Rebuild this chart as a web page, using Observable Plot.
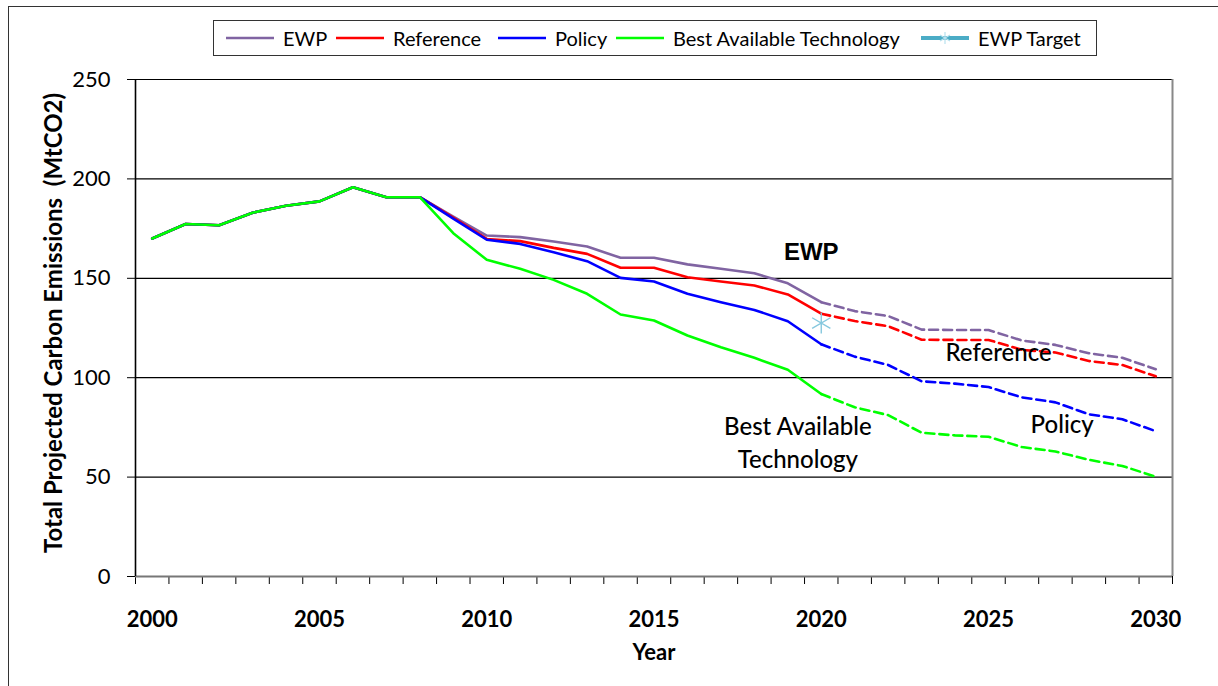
<!DOCTYPE html>
<html>
<head>
<meta charset="utf-8">
<script src="https://cdn.jsdelivr.net/npm/d3@7"></script>
<script src="https://cdn.jsdelivr.net/npm/@observablehq/plot@0.6"></script>
<style>
  body { margin: 0; background: #fff; }
  #wrap { position: relative; width: 1218px; height: 686px; overflow: hidden; }
  #frame { position: absolute; left: 8px; top: 6px; width: 1300px; height: 800px; border: 1.5px solid #333; box-sizing: border-box; }
  #legend { position: absolute; left: 213px; top: 20px; width: 884px; height: 36px; border: 1.5px solid #333; box-sizing: border-box; background: #fff;
            font-family: Lato, "Open Sans", sans-serif; font-size: 20px; color: #000; }
  #legend .item { position: absolute; top: 0; height: 33px; display: flex; align-items: center; white-space: nowrap; }
  #legend svg { margin-right: 9px; }
  #chart { position: absolute; left: 0; top: 0; }
  g[aria-label="y-axis tick label"] text { font-size: 22px; }
</style>
</head>
<body>
<div id="wrap">
  <div id="frame"></div>
  <div id="chart"></div>
  <div id="legend"></div>
</div>
<script>
// ---- data ----
const years = [2000,2001,2002,2003,2004,2005,2006,2007,2008,2009,2010,2011,2012,2013,2014,2015,2016,2017,2018,2019,2020,2021,2022,2023,2024,2025,2026,2027,2028,2029,2030];
const ewp = [170,177.3,176.7,183,186.5,188.7,195.8,190.8,190.8,181,171.5,170.7,168.5,166,160.3,160.3,157,154.8,152.5,147.5,138,133.5,131,124.2,124,124,118.7,116.5,112.3,110,104.3];
const reference = [170,177.3,176.7,183,186.5,188.7,195.8,190.8,190.8,180.5,169.8,168.7,165.3,162.3,155.3,155.3,150.5,148.4,146.4,141.9,132.2,128.5,125.9,119.1,119,119,114,112.7,108.4,106.4,100.7];
const policy = [170,177.3,176.7,183,186.5,188.7,195.8,190.8,190.8,180,169.4,167.3,163.1,158.6,150.2,148.4,142.2,138,134.1,128.4,116.8,110.6,106.4,98.2,97,95.3,90.1,87.6,81.6,79.1,73.1];
const bat = [170,177.3,176.7,183,186.5,188.7,195.8,190.8,190.8,172.7,159.3,154.8,149.2,142.2,131.8,128.8,121.2,115.3,110,104,91.8,85.1,81.2,72.3,71,70.3,65.1,62.9,58.7,55.6,50.2];
const seriesNames = ["EWP", "Reference", "Policy", "Best Available Technology"];
const seriesColors = ["#8064A2", "#FF0000", "#0000FF", "#00FF00"];
const projectionStart = 2020;
const targetYear = [2020];
const targetValue = [127.5];
const yTicks = [0, 50, 100, 150, 200, 250];
const xLabelYears = [2000, 2005, 2010, 2015, 2020, 2025, 2030];
const annLabels = ["EWP", "Reference", "Policy", "Best Available\nTechnology"];
const annX = [2019.7, 2025.3, 2027.2, 2019.3];
const annY = [163, 113.7, 77.5, 68.2];

// ---- build table ----
const seriesValues = [ewp, reference, policy, bat];
const rows = [];
seriesNames.forEach((s, i) => years.forEach((yr, j) => rows.push({series: s, year: yr, value: seriesValues[i][j]})));
const solid = rows.filter(d => d.year <= projectionStart);
const dashed = rows.filter(d => d.year >= projectionStart);
const target = targetYear.map((y, i) => ({year: y, value: targetValue[i]}));
const ann = annLabels.map((t, i) => ({text: t, year: annX[i], value: annY[i]}));
const boundaries = years.map(y => y - 0.5).concat([years[years.length - 1] + 0.5]);

const calibri = "Lato, 'Open Sans', sans-serif";

const chart = Plot.plot({
  width: 1218,
  height: 686,
  marginLeft: 135,
  marginRight: 46,
  marginTop: 79,
  marginBottom: 110,
  style: {fontFamily: calibri, fontSize: "21px", color: "#000", background: "transparent"},
  x: {domain: [years[0] - 0.5, years[years.length - 1] + 0.5]},
  y: {domain: [0, 250]},
  color: {domain: seriesNames, range: seriesColors},
  marks: [
    Plot.ruleY(yTicks.filter(d => d > 0), {stroke: "#000", strokeWidth: 1.2}),
    Plot.ruleX([years[years.length - 1] + 0.5], {stroke: "#888", strokeWidth: 2}),
    Plot.axisY({ticks: yTicks, tickSize: 8, tickPadding: 17, label: null, fontSize: 22}),
    Plot.axisX({ticks: boundaries, tickSize: 8, tickFormat: () => "", label: null}),
    Plot.axisX({ticks: xLabelYears, tickSize: 0, tickPadding: 35, tickFormat: d => String(d), label: null, fontWeight: "bold", fontSize: 22}),
    Plot.ruleY([0], {stroke: "#777", strokeWidth: 2.2}),
    Plot.ruleX([years[0] - 0.5], {stroke: "#000", strokeWidth: 1.6}),
    Plot.line(solid, {x: "year", y: "value", z: "series", stroke: "series", strokeWidth: 2.6}),
    Plot.line(dashed, {x: "year", y: "value", z: "series", stroke: "series", strokeWidth: 2.6, strokeDasharray: "9,5"}),
    Plot.dot(target, {x: "year", y: "value", symbol: "asterisk", r: 10, stroke: "#86C8DE", strokeWidth: 1.4}),
    Plot.text(ann.filter(d => d.text === "EWP"), {x: "year", y: "value", text: "text", fontFamily: "'Liberation Sans', Arial, sans-serif", fontWeight: "bold", fontSize: 24, fill: "#000"}),
    Plot.text(ann.filter(d => d.text !== "EWP"), {x: "year", y: "value", text: "text", fontSize: 24, lineHeight: 1.4, fill: "#000", fontWeight: 500}),
    Plot.text(["Total Projected Carbon Emissions\u00a0 (MtCO2)"], {frameAnchor: "left", textAnchor: "middle", rotate: -90, dx: -81, dy: -5, fontWeight: "bold", fontSize: 24, fill: "#000"}),
    Plot.text(["Year"], {frameAnchor: "bottom", dy: 83, fontWeight: "bold", fontSize: 22, fill: "#000"})
  ]
});
document.getElementById("chart").appendChild(chart);

// ---- legend ----
const legendItems = [
  {name: "EWP", color: "#8064A2", left: 12},
  {name: "Reference", color: "#FF0000", left: 122},
  {name: "Policy", color: "#0000FF", left: 284},
  {name: "Best Available Technology", color: "#00FF00", left: 402},
  {name: "EWP Target", color: "#4BACC6", left: 707, marker: true}
];
const legend = document.getElementById("legend");
legendItems.forEach(it => {
  const div = document.createElement("div");
  div.className = "item";
  div.style.left = it.left + "px";
  const sw = it.marker
    ? `<svg width="48" height="14"><line x1="0" y1="7" x2="48" y2="7" stroke="${it.color}" stroke-width="4"/><path d="M24,1V13M19,4L29,10M19,10L29,4" stroke="#B7E1EE" stroke-width="1.2"/></svg>`
    : `<svg width="48" height="14"><line x1="0" y1="7" x2="48" y2="7" stroke="${it.color}" stroke-width="2.6"/></svg>`;
  div.innerHTML = sw + `<span>${it.name}</span>`;
  legend.appendChild(div);
});
</script>
</body>
</html>
